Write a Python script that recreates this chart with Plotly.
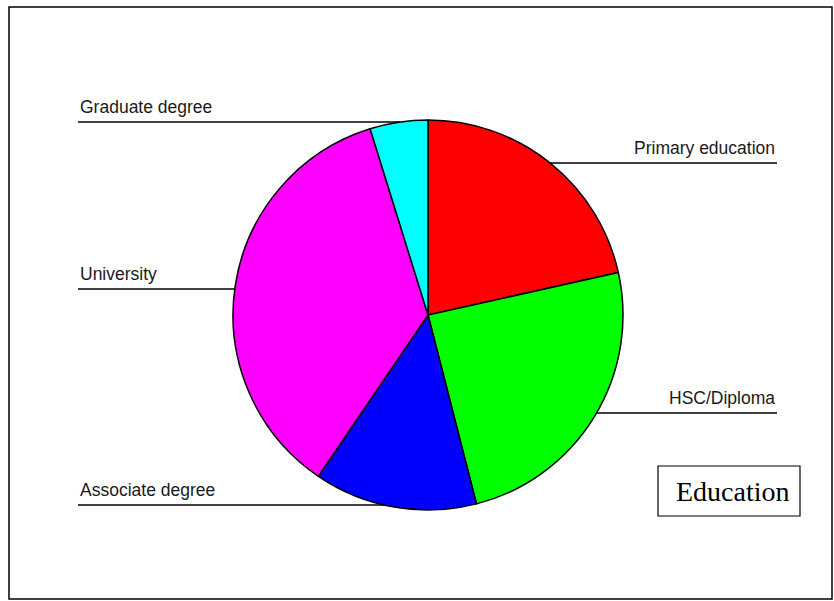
import math
import plotly.graph_objects as go

# Education breakdown (percent of respondents)
categories = ["Primary education", "HSC/Diploma", "Associate degree", "University", "Graduate degree"]
shares = [21.5, 24.5, 13.5, 35.7, 4.8]
colors = ["#ff0000", "#00ff00", "#0000ff", "#ff00ff", "#00ffff"]

W, H = 834, 601
CX, CY, R = 428, 315, 195  # pie centre and radius in pixels


def px(x):
    return x / W


def py(y):
    return 1 - y / H


fig = go.Figure(
    go.Pie(
        labels=categories,
        values=shares,
        sort=False,
        direction="clockwise",
        rotation=0,
        textinfo="none",
        hoverinfo="label+percent",
        marker=dict(colors=colors, line=dict(color="#000000", width=1.5)),
        domain=dict(x=[px(CX - R), px(CX + R)], y=[py(CY + R), py(CY - R)]),
        showlegend=False,
    )
)


def edge_x(y, side):
    dy = y - CY
    return CX + side * math.sqrt(max(R * R - dy * dy, 0))


# label placement: (text, line y, side, outer x)
callouts = [
    ("Primary education", 163, +1, 777),
    ("HSC/Diploma", 413, +1, 777),
    ("Graduate degree", 122, -1, 78),
    ("University", 289, -1, 78),
    ("Associate degree", 505, -1, 78),
]

shapes = []
annotations = []
for text, ly, side, ox in callouts:
    ex = edge_x(ly, side)
    shapes.append(dict(type="line", xref="paper", yref="paper",
                       x0=px(ox), x1=px(ex), y0=py(ly), y1=py(ly),
                       line=dict(color="#000000", width=1.5)))
    annotations.append(dict(
        text=text, xref="paper", yref="paper",
        x=px(ox), y=py(ly - 3),
        xanchor="right" if side > 0 else "left", yanchor="bottom",
        showarrow=False,
        font=dict(family="Liberation Sans, Arial", size=17.5, color="#1a1a1a"),
    ))

# title box
annotations.append(dict(
    text="Education", xref="paper", yref="paper",
    x=px(733), y=py(491), xanchor="center", yanchor="middle",
    showarrow=False,
    font=dict(family="Liberation Serif, Times New Roman", size=28, color="#000000"),
))
shapes.append(dict(type="rect", xref="paper", yref="paper",
                   x0=px(658), x1=px(800), y0=py(466), y1=py(516),
                   line=dict(color="#000000", width=1.2)))

# outer frame
shapes.append(dict(type="rect", xref="paper", yref="paper",
                   x0=px(9), x1=px(832), y0=py(7), y1=py(599),
                   line=dict(color="#000000", width=1.5)))

fig.update_layout(
    width=W, height=H,
    margin=dict(l=0, r=0, t=0, b=0),
    paper_bgcolor="#ffffff",
    plot_bgcolor="#ffffff",
    shapes=shapes,
    annotations=annotations,
)

fig.write_html("out.html")
